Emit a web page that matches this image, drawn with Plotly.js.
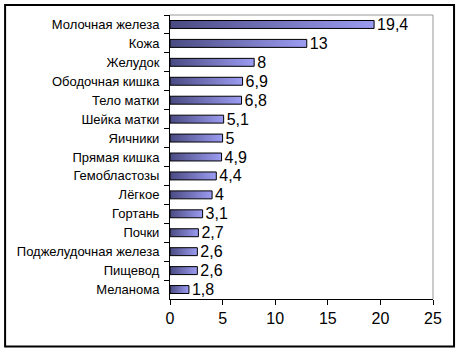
<!DOCTYPE html>
<html>
<head>
<meta charset="utf-8">
<script src="https://cdn.plot.ly/plotly-3.0.1.min.js"></script>
<style>html,body{margin:0;padding:0;background:#fff;}#chart{width:460px;height:351px;}</style>
</head>
<body>
<div id="chart"></div>
<script>
var categories = ["Молочная железа","Кожа","Желудок","Ободочная кишка","Тело матки","Шейка матки","Яичники","Прямая кишка","Гемобластозы","Лёгкое","Гортань","Почки","Поджелудочная железа","Пищевод","Меланома"];
var values = [19.4,13,8,6.9,6.8,5.1,5,4.9,4.4,4,3.1,2.7,2.6,2.6,1.8];
var xTicks = [0,5,10,15,20,25];

var labels = values.map(function(v){return String(v).replace('.', ',');});

var trace = {
  type: 'bar', orientation: 'h',
  x: values, y: categories,
  text: labels, textposition: 'outside', cliponaxis: false, constraintext: 'none',
  textfont: {family: 'Liberation Sans, Arial, sans-serif', size: 16, color: '#000'},
  marker: {color: '#7777c4', line: {color: '#000', width: 1}},
  hoverinfo: 'none'
};

var layout = {
  width: 460, height: 351,
  margin: {l: 170, r: 27, t: 15, b: 52},
  paper_bgcolor: '#fff', plot_bgcolor: '#fff',
  bargap: 0.58,
  showlegend: false,
  uniformtext: {mode: false},
  font: {family: 'Liberation Sans, Arial, sans-serif', color: '#000'},
  xaxis: {range: [0, 25], tickvals: xTicks, ticktext: xTicks.map(String),
    showgrid: false, zeroline: false, showline: true, linecolor: '#000', linewidth: 1,
    ticks: 'outside', ticklen: 5, tickcolor: '#000', tickfont: {size: 16}, fixedrange: true},
  yaxis: {autorange: 'reversed', type: 'category', showgrid: false, zeroline: false,
    showline: true, linecolor: '#000', linewidth: 1, tickson: 'boundaries',
    ticks: 'outside', ticklen: 5, tickcolor: '#000', tickfont: {size: 13},
    ticklabelstandoff: 7, fixedrange: true},
  shapes: [
    {type: 'line', xref: 'paper', yref: 'paper', x0: 0, x1: 1, y0: 1, y1: 1, line: {color: '#999', width: 1}},
    {type: 'line', xref: 'paper', yref: 'paper', x0: 1, x1: 1, y0: 0, y1: 1, line: {color: '#999', width: 1}},
    {type: 'rect', xref: 'paper', yref: 'paper', x0: -0.627, x1: 1.08, y0: -0.167, y1: 1.035, line: {color: '#000', width: 2}}
  ]
};

Plotly.newPlot('chart', [trace], layout, {staticPlot: true}).then(function(gd){
  var svg = gd.querySelector('.main-svg');
  var ns = 'http://www.w3.org/2000/svg';
  var defs = svg.querySelector('defs') || svg.insertBefore(document.createElementNS(ns,'defs'), svg.firstChild);
  var g = document.createElementNS(ns, 'linearGradient');
  g.setAttribute('id', 'barGrad');
  g.setAttribute('x1','0'); g.setAttribute('x2','1'); g.setAttribute('y1','0'); g.setAttribute('y2','0');
  [['0','#4a4a82'],['1','#9c9cf2']].forEach(function(s){
    var st = document.createElementNS(ns,'stop');
    st.setAttribute('offset', s[0]); st.setAttribute('stop-color', s[1]);
    g.appendChild(st);
  });
  defs.appendChild(g);
  gd.querySelectorAll('.bars .point path').forEach(function(p){ p.style.fill = 'url(#barGrad)'; });
});
</script>
</body>
</html>
